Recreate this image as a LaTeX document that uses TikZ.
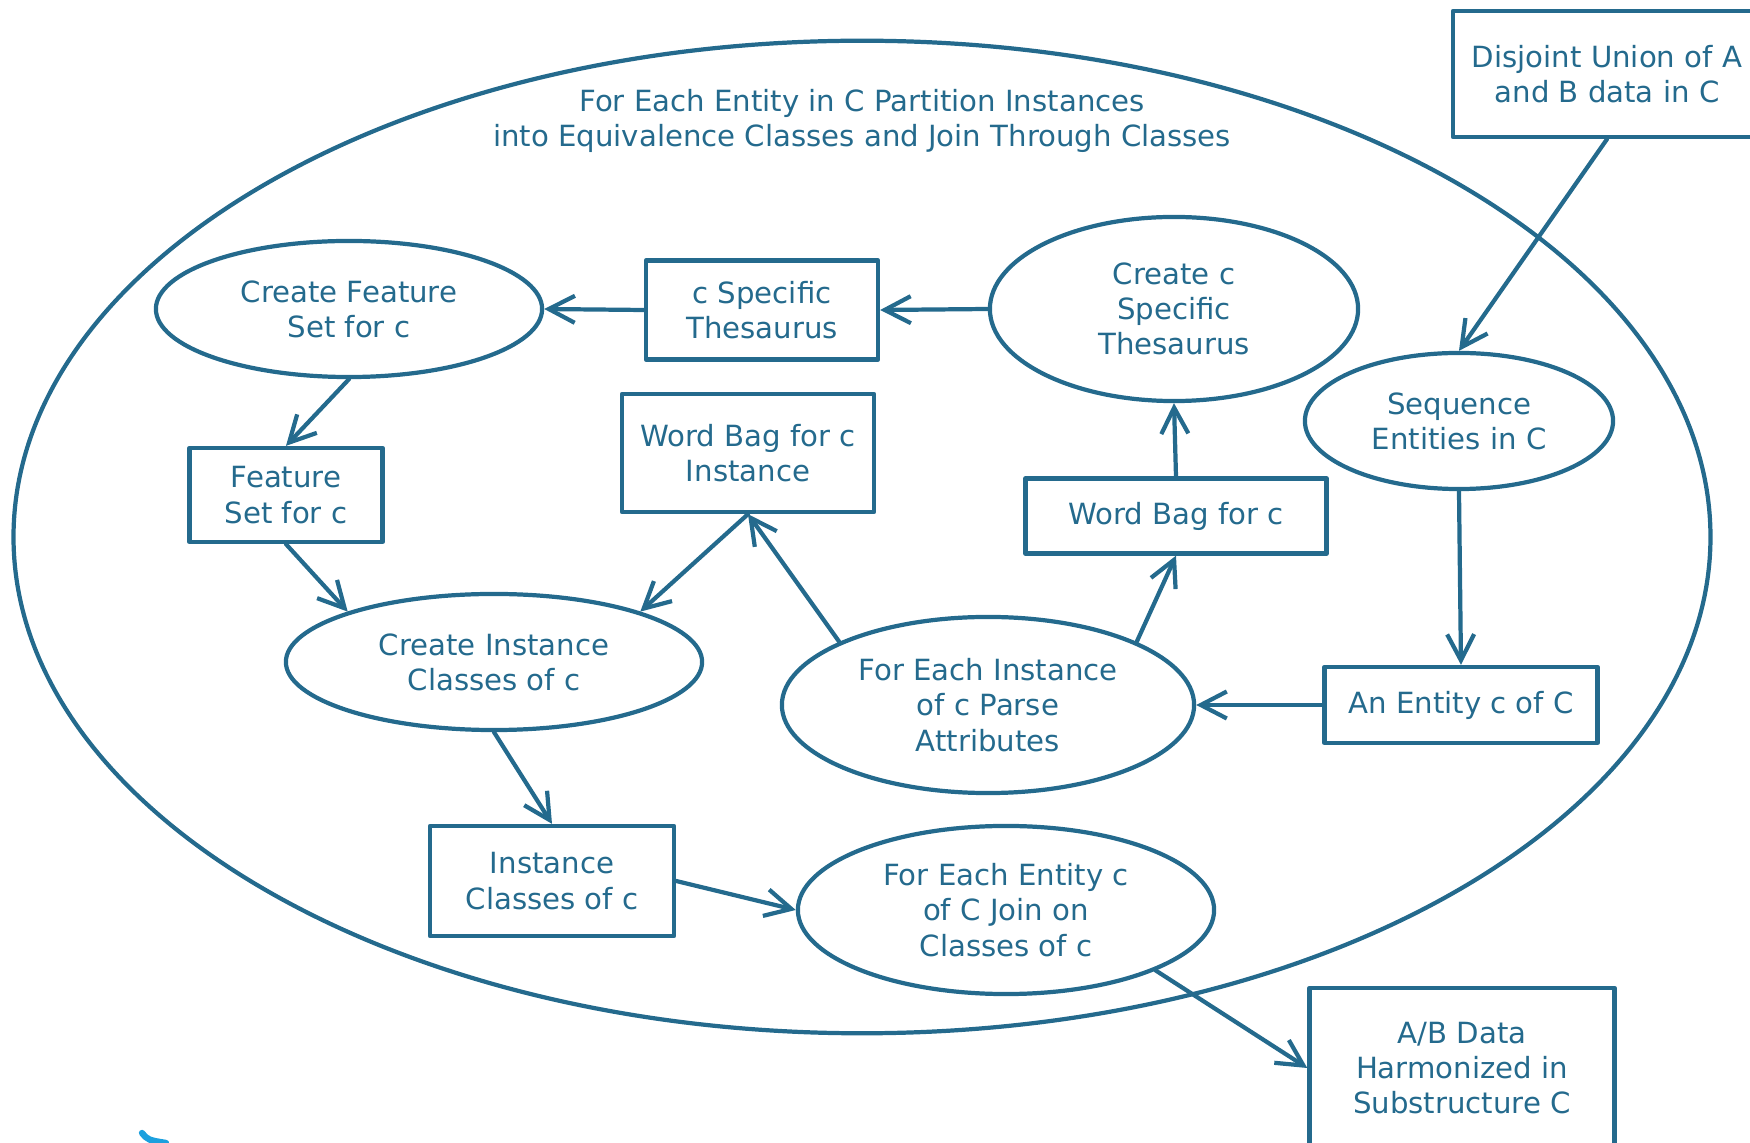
\documentclass[tikz,border=0pt]{standalone}
\usepackage{fontspec}
\setmainfont{DejaVu Sans}
\usepackage{tikz}
\usetikzlibrary{shapes.geometric}
\usetikzlibrary{arrows.meta}
\definecolor{flowblue}{RGB}{36,106,141}
\definecolor{markcyan}{RGB}{28,160,222}

\begin{document}
\begin{tikzpicture}[line cap=round,line join=round,x=0.01cm,y=-0.01cm,
	every node/.style={text=flowblue,align=center,font=\fontsize{8.3}{10}\selectfont},
	procbox/.style={draw=flowblue,line width=1.2pt,inner sep=0pt},
	procell/.style={draw=flowblue,line width=1.2pt,ellipse,inner sep=0pt},
	flow/.style={draw=flowblue,line width=1.2pt,-{Straight Barb[length=2.6mm,width=2.7mm]}}]
	\useasboundingbox (0,0) rectangle (1750,1143);
	\clip (0,0) rectangle (1750,1143);
	\node[procell,minimum width=16.96cm,minimum height=9.92cm] (outer) at (862,537) {};
	\node (title) at (862,121) {For Each Entity in C Partition Instances\\into Equivalence Classes and Join Through Classes};
	\node[procbox,minimum width=3.08cm,minimum height=1.26cm] (disjoint) at (1607,74) {Disjoint Union of A\\and B data in C};
	\node[procell,minimum width=3.86cm,minimum height=1.36cm] (cfeat) at (349,309) {Create Feature\\Set for c};
	\node[procbox,minimum width=2.32cm,minimum height=0.99cm] (cthes) at (762,310) {c Specific\\Thesaurus};
	\node[procell,minimum width=3.68cm,minimum height=1.84cm] (ccthes) at (1174,309) {Create c\\Specific\\Thesaurus};
	\node[procell,minimum width=3.08cm,minimum height=1.36cm] (seq) at (1459,421) {Sequence\\Entities in C};
	\node[procbox,minimum width=1.93cm,minimum height=0.94cm] (fset) at (286,495) {Feature\\Set for c};
	\node[procbox,minimum width=2.52cm,minimum height=1.18cm] (wbinst) at (748,453) {Word Bag for c\\Instance};
	\node[procbox,minimum width=3.01cm,minimum height=0.75cm] (wbag) at (1176,516) {Word Bag for c};
	\node[procell,minimum width=4.16cm,minimum height=1.36cm] (cinst) at (494,662) {Create Instance\\Classes of c};
	\node[procell,minimum width=4.12cm,minimum height=1.76cm] (feinst) at (988,705) {For Each Instance\\of c Parse\\Attributes};
	\node[procbox,minimum width=2.73cm,minimum height=0.76cm] (entity) at (1461,705) {An Entity c of C};
	\node[procbox,minimum width=2.44cm,minimum height=1.10cm] (iclass) at (552,881) {Instance\\Classes of c};
	\node[procell,minimum width=4.16cm,minimum height=1.68cm] (fejoin) at (1006,910) {For Each Entity c\\of C Join on\\Classes of c};
	\node[procbox,minimum width=3.05cm,minimum height=1.60cm] (abdata) at (1462,1068) {A/B Data\\Harmonized in\\Substructure C};
	\draw[flow] (disjoint.south) -- (seq.north);
	\draw[flow] (seq.south) -- (entity.north);
	\draw[flow] (entity.west) -- (feinst.east);
	\draw[flow] (feinst.23) -- (wbag.south);
	\draw[flow] (wbag.north) -- (ccthes.south);
	\draw[flow] (ccthes.west) -- (cthes.east);
	\draw[flow] (cthes.west) -- (cfeat.east);
	\draw[flow] (cfeat.south) -- (fset.north);
	\draw[flow] (fset.south) -- (cinst.161);
	\draw[flow] (wbinst.south) -- (cinst.19);
	\draw[flow] (feinst.157) -- (wbinst.south);
	\draw[flow] (cinst.south) -- (iclass.north);
	\draw[flow] (iclass.east) -- (fejoin.west);
	\draw[flow] (fejoin.-22) -- (abdata.west);
	\draw[markcyan,line width=1.8pt] (142,1133) .. controls (148,1140) .. (166,1143);
\end{tikzpicture}
\end{document}
